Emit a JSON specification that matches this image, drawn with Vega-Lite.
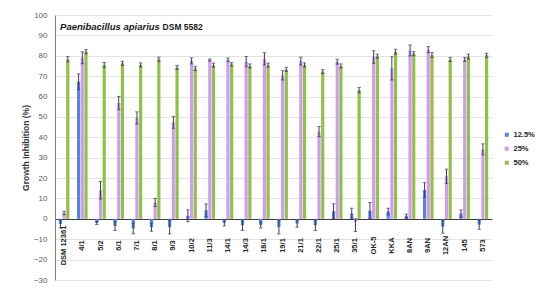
{
  "$schema": "https://vega.github.io/schema/vega-lite/v6.json",
  "width": 437,
  "height": 265,
  "autosize": "none",
  "padding": {"left": 55, "top": 15, "right": 58, "bottom": 17},
  "background": "white",
  "config": {
    "view": {"stroke": null},
    "font": "Liberation Sans",
    "axisY": {"labelOverlap": false, "labelFlush": false, "tickCount": 20}
  },
  "data": {"values": [
    {"s":"DSM 12361","c":"12.5%","v":-2.5,"lo":-4.5,"hi":-0.5},
    {"s":"DSM 12361","c":"25%","v":2.8,"lo":2.0,"hi":3.6},
    {"s":"DSM 12361","c":"50%","v":78.3,"lo":77.0,"hi":79.6},
    {"s":"4/1","c":"12.5%","v":67.3,"lo":63.5,"hi":71.1},
    {"s":"4/1","c":"25%","v":79.0,"lo":76.1,"hi":81.9},
    {"s":"4/1","c":"50%","v":82.0,"lo":81.0,"hi":83.0},
    {"s":"5/2","c":"12.5%","v":-2.0,"lo":-2.8,"hi":-1.2},
    {"s":"5/2","c":"25%","v":14.0,"lo":9.7,"hi":18.3},
    {"s":"5/2","c":"50%","v":75.5,"lo":74.3,"hi":76.7},
    {"s":"6/1","c":"12.5%","v":-3.5,"lo":-5.7,"hi":-1.3},
    {"s":"6/1","c":"25%","v":56.8,"lo":53.6,"hi":60.0},
    {"s":"6/1","c":"50%","v":76.3,"lo":75.3,"hi":77.3},
    {"s":"7/1","c":"12.5%","v":-4.7,"lo":-7.3,"hi":-2.1},
    {"s":"7/1","c":"25%","v":49.5,"lo":46.5,"hi":52.5},
    {"s":"7/1","c":"50%","v":75.5,"lo":74.5,"hi":76.5},
    {"s":"8/1","c":"12.5%","v":-4.1,"lo":-6.1,"hi":-2.1},
    {"s":"8/1","c":"25%","v":8.0,"lo":6.0,"hi":10.0},
    {"s":"8/1","c":"50%","v":78.3,"lo":77.3,"hi":79.3},
    {"s":"9/3","c":"12.5%","v":-4.0,"lo":-7.4,"hi":-0.6},
    {"s":"9/3","c":"25%","v":47.3,"lo":44.4,"hi":50.2},
    {"s":"9/3","c":"50%","v":74.3,"lo":73.3,"hi":75.3},
    {"s":"10/2","c":"12.5%","v":1.5,"lo":-1.4,"hi":4.4},
    {"s":"10/2","c":"25%","v":77.5,"lo":76.0,"hi":79.0},
    {"s":"10/2","c":"50%","v":73.8,"lo":72.8,"hi":74.8},
    {"s":"11/3","c":"12.5%","v":4.2,"lo":1.1,"hi":7.3},
    {"s":"11/3","c":"25%","v":77.9,"lo":77.4,"hi":78.4},
    {"s":"11/3","c":"50%","v":75.4,"lo":74.4,"hi":76.4},
    {"s":"14/1","c":"12.5%","v":-2.0,"lo":-3.5,"hi":-0.5},
    {"s":"14/1","c":"25%","v":78.0,"lo":77.1,"hi":78.9},
    {"s":"14/1","c":"50%","v":75.8,"lo":75.0,"hi":76.6},
    {"s":"14/3","c":"12.5%","v":-3.1,"lo":-5.7,"hi":-0.5},
    {"s":"14/3","c":"25%","v":77.1,"lo":74.6,"hi":79.6},
    {"s":"14/3","c":"50%","v":75.0,"lo":74.0,"hi":76.0},
    {"s":"18/1","c":"12.5%","v":-3.0,"lo":-4.5,"hi":-1.5},
    {"s":"18/1","c":"25%","v":78.5,"lo":75.5,"hi":81.5},
    {"s":"18/1","c":"50%","v":75.4,"lo":74.4,"hi":76.4},
    {"s":"19/1","c":"12.5%","v":-4.0,"lo":-7.4,"hi":-0.6},
    {"s":"19/1","c":"25%","v":70.4,"lo":68.1,"hi":72.7},
    {"s":"19/1","c":"50%","v":73.3,"lo":72.3,"hi":74.3},
    {"s":"21/1","c":"12.5%","v":-2.3,"lo":-4.1,"hi":-0.5},
    {"s":"21/1","c":"25%","v":77.4,"lo":75.5,"hi":79.3},
    {"s":"21/1","c":"50%","v":75.5,"lo":74.5,"hi":76.5},
    {"s":"22/1","c":"12.5%","v":-3.1,"lo":-5.7,"hi":-0.5},
    {"s":"22/1","c":"25%","v":42.8,"lo":40.3,"hi":45.3},
    {"s":"22/1","c":"50%","v":72.2,"lo":71.2,"hi":73.2},
    {"s":"25/1","c":"12.5%","v":3.7,"lo":0.0,"hi":7.4},
    {"s":"25/1","c":"25%","v":77.1,"lo":75.9,"hi":78.3},
    {"s":"25/1","c":"50%","v":75.0,"lo":74.0,"hi":76.0},
    {"s":"35/1","c":"12.5%","v":2.6,"lo":0.0,"hi":5.2},
    {"s":"35/1","c":"25%","v":-1.5,"lo":-6.2,"hi":0.0},
    {"s":"35/1","c":"50%","v":63.2,"lo":61.9,"hi":64.5},
    {"s":"OK-5","c":"12.5%","v":4.0,"lo":0.0,"hi":8.0},
    {"s":"OK-5","c":"25%","v":79.4,"lo":76.3,"hi":82.5},
    {"s":"OK-5","c":"50%","v":79.8,"lo":78.8,"hi":80.8},
    {"s":"KKA","c":"12.5%","v":3.6,"lo":2.0,"hi":5.2},
    {"s":"KKA","c":"25%","v":73.8,"lo":68.1,"hi":79.5},
    {"s":"KKA","c":"50%","v":82.0,"lo":80.8,"hi":83.2},
    {"s":"8AN","c":"12.5%","v":1.3,"lo":0.3,"hi":2.3},
    {"s":"8AN","c":"25%","v":82.6,"lo":79.9,"hi":85.3},
    {"s":"8AN","c":"50%","v":81.0,"lo":80.0,"hi":82.0},
    {"s":"9AN","c":"12.5%","v":14.2,"lo":10.6,"hi":17.8},
    {"s":"9AN","c":"25%","v":83.0,"lo":81.5,"hi":84.5},
    {"s":"9AN","c":"50%","v":80.4,"lo":79.2,"hi":81.6},
    {"s":"12AN","c":"12.5%","v":-3.8,"lo":-7.0,"hi":-0.6},
    {"s":"12AN","c":"25%","v":20.9,"lo":17.4,"hi":24.4},
    {"s":"12AN","c":"50%","v":78.2,"lo":77.2,"hi":79.2},
    {"s":"145","c":"12.5%","v":2.6,"lo":0.8,"hi":4.4},
    {"s":"145","c":"25%","v":78.2,"lo":77.2,"hi":79.2},
    {"s":"145","c":"50%","v":79.6,"lo":78.4,"hi":80.8},
    {"s":"573","c":"12.5%","v":-2.8,"lo":-5.1,"hi":-0.5},
    {"s":"573","c":"25%","v":34.1,"lo":31.4,"hi":36.8},
    {"s":"573","c":"50%","v":80.2,"lo":79.2,"hi":81.2}
  ]},
  "encoding": {
    "x": {
      "field": "s", "type": "nominal", "sort": null,
      "scale": {
        "domain": ["DSM 12361","4/1","5/2","6/1","7/1","8/1","9/3","10/2","11/3","14/1","14/3","18/1","19/1","21/1","22/1","25/1","35/1","OK-5","KKA","8AN","9AN","12AN","145","573"],
        "paddingInner": 0.42, "paddingOuter": 0.21
      },
      "axis": {
        "title": null, "offset": -61, "labelAngle": 270, "labelAlign": "center", "labelBaseline": "middle",
        "labelFontWeight": "bold", "labelFontSize": 7.5, "labelColor": "#262626", "labelPadding": 26,
        "labelOverlap": false, "labelBound": false,
        "ticks": false, "domainColor": "#404040", "domainWidth": 1, "grid": false
      }
    }
  },
  "layer": [
    {
      "mark": {"type": "bar"},
      "encoding": {
        "xOffset": {"field": "c", "type": "nominal", "scale": {"domain": ["12.5%","25%","50%"], "paddingInner": 0.14}},
        "y": {
          "field": "v", "type": "quantitative",
          "scale": {"domain": [-30, 100], "nice": false},
          "axis": {
            "title": "Growth Inhibition (%)", "titleFontSize": 8.5, "titleFontWeight": "bold", "titleColor": "#333333", "titlePadding": 3,
            "values": [-30,-20,-10,0,10,20,30,40,50,60,70,80,90,100], "tickCount": 20,
            "labelOverlap": false, "labelFlush": false,
            "labelFontSize": 8, "labelColor": "#595959", "labelPadding": 8, "ticks": false,
            "domainColor": "#7f7f7f", "gridColor": "#dcdcdc", "gridWidth": 0.8
          }
        },
        "color": {
          "field": "c", "type": "nominal",
          "scale": {"domain": ["12.5%","25%","50%"], "range": ["#5383E6","#D09CF3","#92C047"]},
          "legend": {
            "title": null, "orient": "none", "legendX": 448, "legendY": 116, "padding": 0,
            "symbolType": "square", "symbolSize": 16, "symbolStrokeWidth": 0,
            "labelFontSize": 7.5, "labelFontWeight": "bold", "labelColor": "#262626", "rowPadding": 5, "labelOffset": 3
          }
        }
      }
    },
    {
      "mark": {"type": "rule", "color": "#3d3d5c", "strokeWidth": 1},
      "encoding": {
        "xOffset": {"field": "c", "type": "nominal", "scale": {"domain": ["12.5%","25%","50%"], "paddingInner": 0.14}},
        "y": {"field": "lo", "type": "quantitative"},
        "y2": {"field": "hi"}
      }
    },
    {
      "mark": {"type": "tick", "color": "#3d3d5c", "size": 3.5, "thickness": 1, "orient": "horizontal"},
      "encoding": {
        "xOffset": {"field": "c", "type": "nominal", "scale": {"domain": ["12.5%","25%","50%"], "paddingInner": 0.14}},
        "y": {"field": "lo", "type": "quantitative"}
      }
    },
    {
      "mark": {"type": "tick", "color": "#3d3d5c", "size": 3.5, "thickness": 1, "orient": "horizontal"},
      "encoding": {
        "xOffset": {"field": "c", "type": "nominal", "scale": {"domain": ["12.5%","25%","50%"], "paddingInner": 0.14}},
        "y": {"field": "hi", "type": "quantitative"}
      }
    },
    {
      "data": {"values": [{"s": "DSM 12361", "v": 94.3, "t": "Paenibacillus apiarius"}]},
      "mark": {"type": "text", "align": "left", "baseline": "middle", "dx": -4, "fontSize": 9.5, "fontWeight": "bold", "fontStyle": "italic", "color": "#1a1a1a"},
      "encoding": {
        "y": {"field": "v", "type": "quantitative"},
        "text": {"field": "t"}
      }
    },
    {
      "data": {"values": [{"s": "DSM 12361", "v": 94.3, "t": "DSM 5582"}]},
      "mark": {"type": "text", "align": "left", "baseline": "middle", "dx": 98.5, "fontSize": 8.5, "fontWeight": "bold", "color": "#1a1a1a"},
      "encoding": {
        "y": {"field": "v", "type": "quantitative"},
        "text": {"field": "t"}
      }
    }
  ]
}
